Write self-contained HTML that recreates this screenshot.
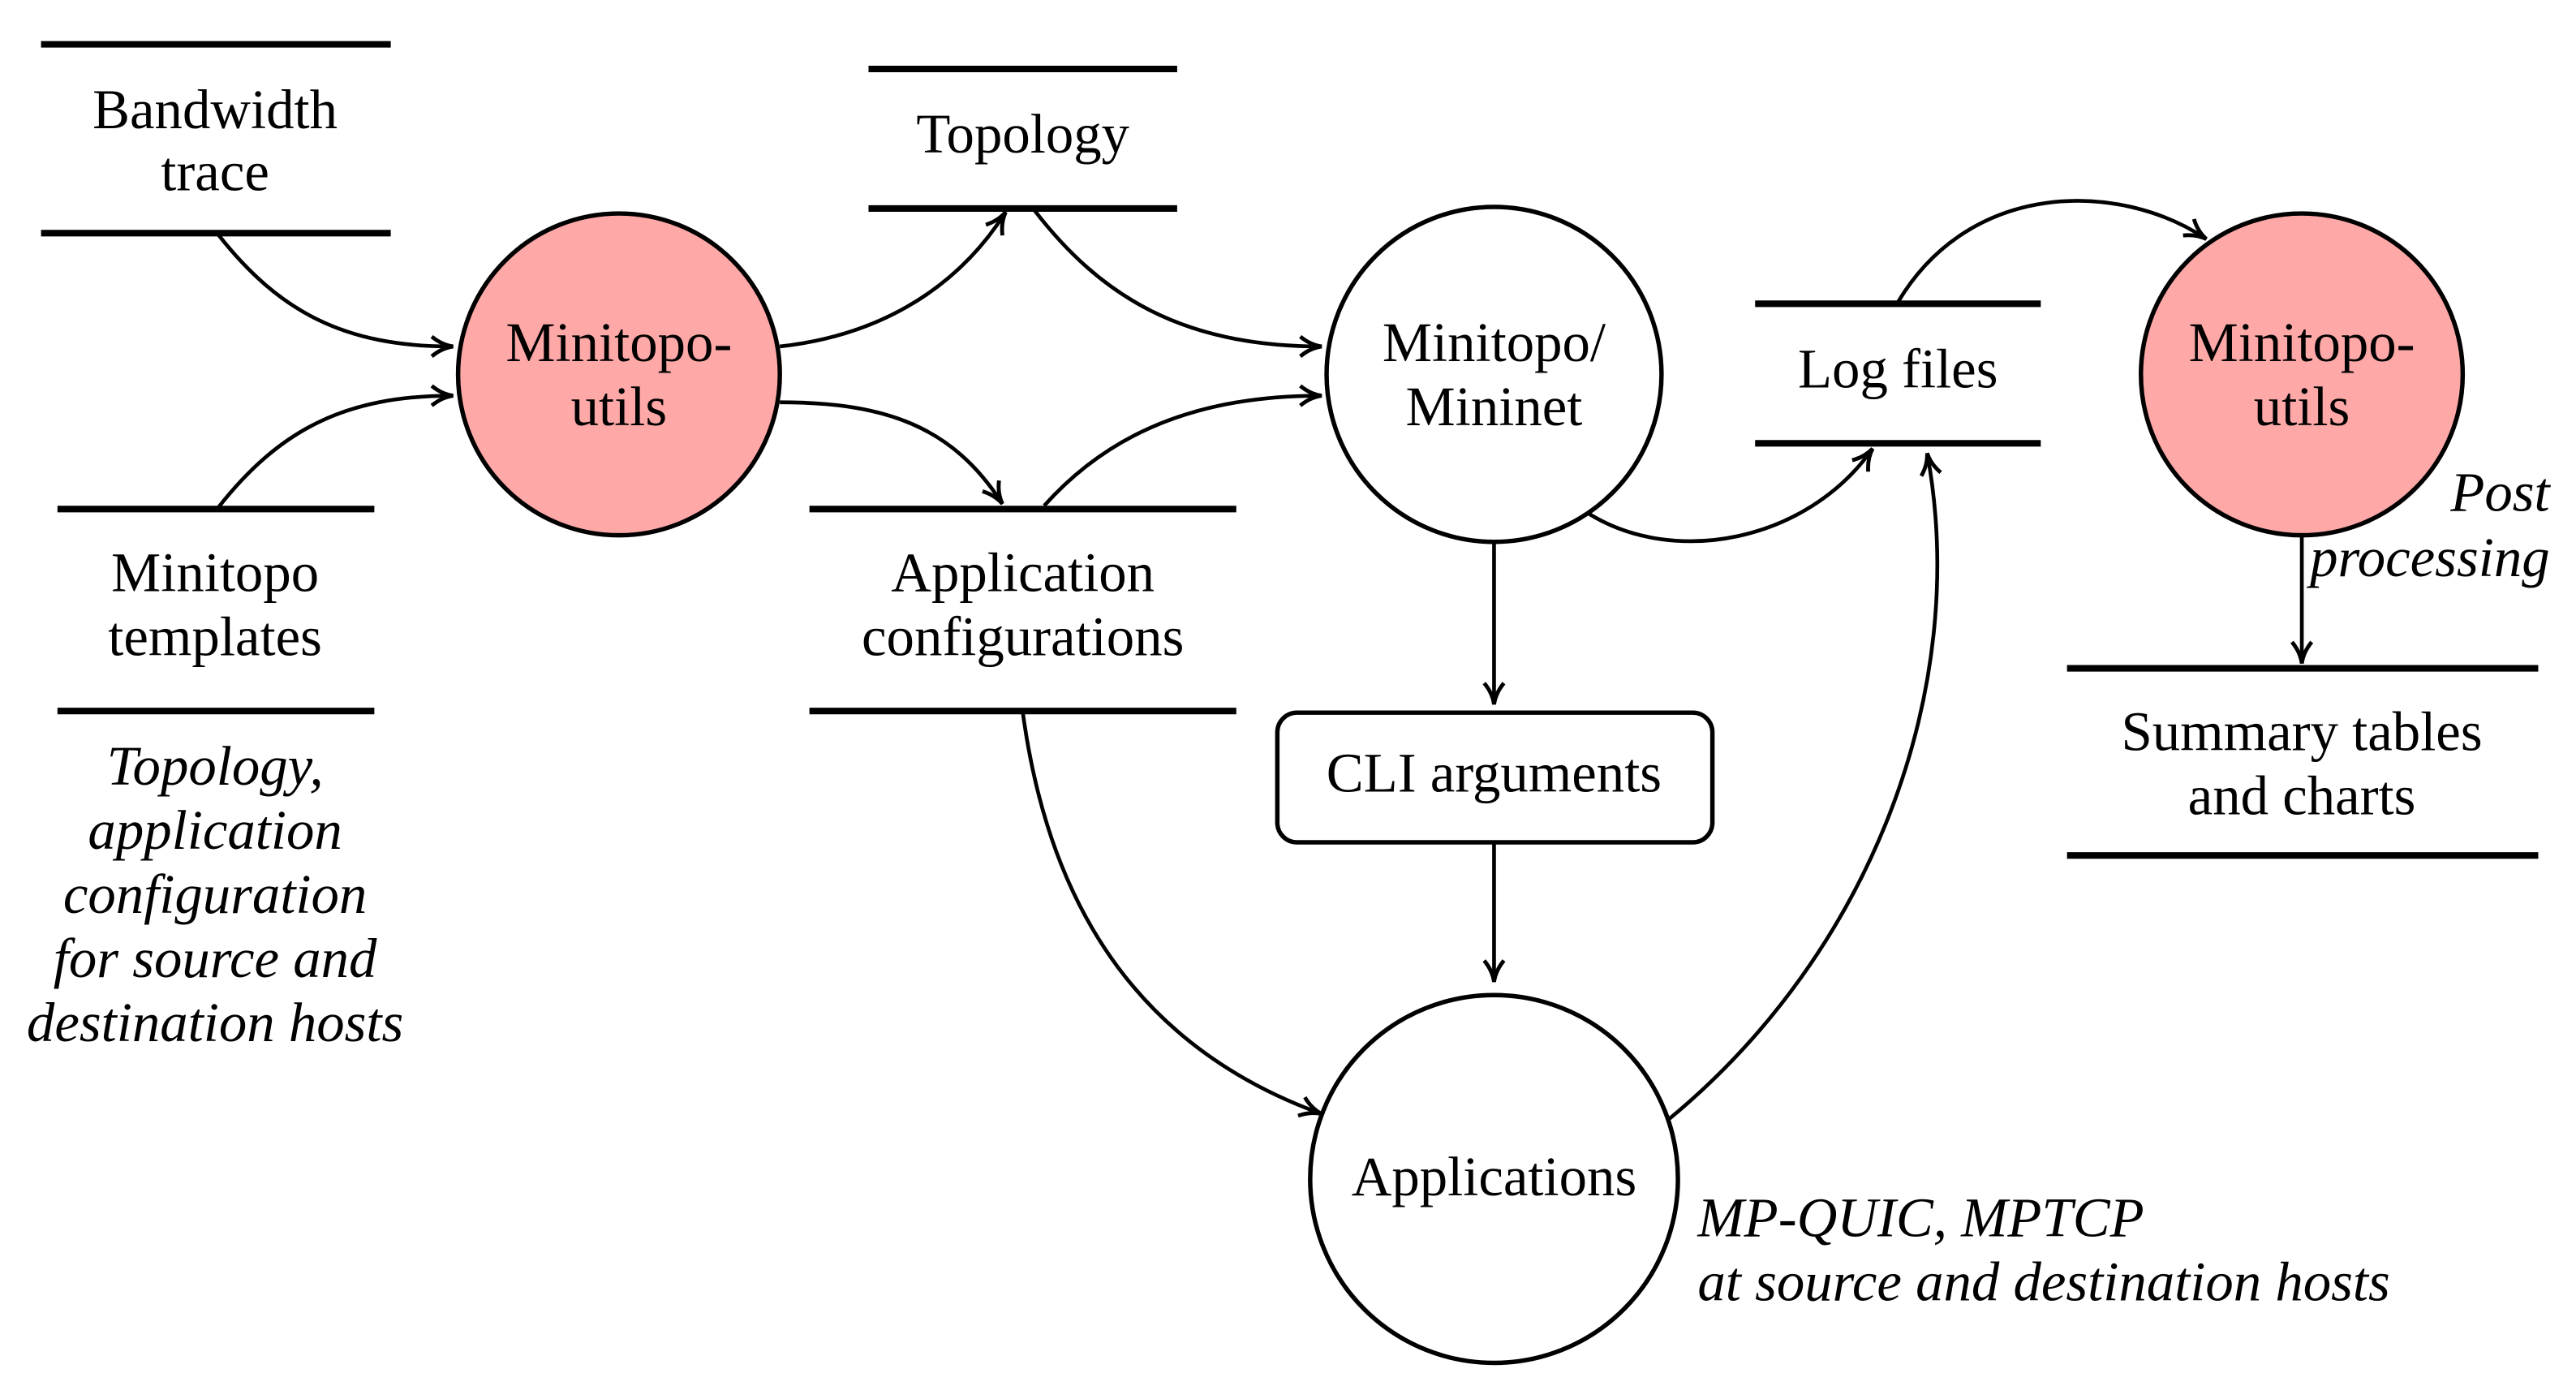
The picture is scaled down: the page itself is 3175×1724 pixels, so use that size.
<!DOCTYPE html>
<html><head><meta charset="utf-8"><style>
html,body{margin:0;padding:0;background:#fff;}
svg{display:block;}
text{font-family:"Liberation Serif",serif;font-size:34px;fill:#000;}
.i{font-style:italic;}
</style></head><body>
<svg width="3175" height="1724" viewBox="0 0 1569 852" preserveAspectRatio="none" xmlns="http://www.w3.org/2000/svg">
<defs>
<marker id="a" markerWidth="16" markerHeight="14" refX="13" refY="7" orient="auto" markerUnits="userSpaceOnUse">
<path d="M1,1 Q7,6 14,7 Q7,8 1,13" fill="none" stroke="#000" stroke-width="2.4"/>
</marker>
</defs>
<g stroke="#000" stroke-width="4">
<line x1="25" y1="27" x2="238" y2="27"/><line x1="25" y1="142" x2="238" y2="142"/>
<line x1="35" y1="310" x2="228" y2="310"/><line x1="35" y1="433" x2="228" y2="433"/>
<line x1="529" y1="42" x2="717" y2="42"/><line x1="529" y1="127" x2="717" y2="127"/>
<line x1="493" y1="310" x2="753" y2="310"/><line x1="493" y1="433" x2="753" y2="433"/>
<line x1="1069" y1="185" x2="1243" y2="185"/><line x1="1069" y1="270" x2="1243" y2="270"/>
<line x1="1259" y1="407" x2="1546" y2="407"/><line x1="1259" y1="521" x2="1546" y2="521"/>
</g>
<g stroke="#000" stroke-width="2.7">
<circle cx="377" cy="228" r="98" fill="#fea8a8"/>
<circle cx="910" cy="228" r="102" fill="#fff"/>
<circle cx="1402" cy="228" r="98" fill="#fea8a8"/>
<circle cx="910" cy="718" r="112" fill="#fff"/>
<rect x="778" y="434" width="265" height="79" rx="12" fill="#fff"/>
</g>
<g fill="none" stroke="#000" stroke-width="2.3" marker-end="url(#a)">
<path d="M133,143 C170,190 210,211 275,211"/>
<path d="M133,309 C170,262 210,241 275,241"/>
<path d="M475,211 C530,205 580,180 612,130"/>
<path d="M475,245 C540,245 580,260 610,306"/>
<path d="M630,128 C670,180 720,211 804,211"/>
<path d="M636,308 C670,270 720,241 804,241"/>
<path d="M910,331 L910,428"/>
<path d="M910,514 L910,597"/>
<path d="M623,434 C640,560 700,640 804,678"/>
<path d="M968,313 C1020,345 1100,330 1140,274"/>
<path d="M1016,682 C1140,580 1200,420 1174,277"/>
<path d="M1156,184 C1200,110 1290,110 1343,145"/>
<path d="M1402,327 L1402,403"/>
</g>
<g text-anchor="middle">
<text x="131" y="78">Bandwidth</text><text x="131" y="116">trace</text>
<text x="131" y="360">Minitopo</text><text x="131" y="399">templates</text>
<text class="i" x="131" y="478">Topology,</text>
<text class="i" x="131" y="517">application</text>
<text class="i" x="131" y="556">configuration</text>
<text class="i" x="131" y="595">for source and</text>
<text class="i" x="131" y="634">destination hosts</text>
<text x="377" y="220">Minitopo-</text><text x="377" y="259">utils</text>
<text x="623" y="93">Topology</text>
<text x="623" y="360">Application</text><text x="623" y="399">configurations</text>
<text x="910" y="220">Minitopo/</text><text x="910" y="259">Mininet</text>
<text x="1156" y="236">Log files</text>
<text x="1402" y="220">Minitopo-</text><text x="1402" y="259">utils</text>
<text x="1402" y="457">Summary tables</text><text x="1402" y="496">and charts</text>
<text x="910" y="482">CLI arguments</text>
<text x="910" y="728">Applications</text>
</g>
<g text-anchor="end">
<text class="i" x="1553" y="311">Post</text>
<text class="i" x="1553" y="351">processing</text>
</g>
<text class="i" x="1034" y="753">MP-QUIC, MPTCP</text>
<text class="i" x="1034" y="792">at source and destination hosts</text>
</svg>
</body></html>
